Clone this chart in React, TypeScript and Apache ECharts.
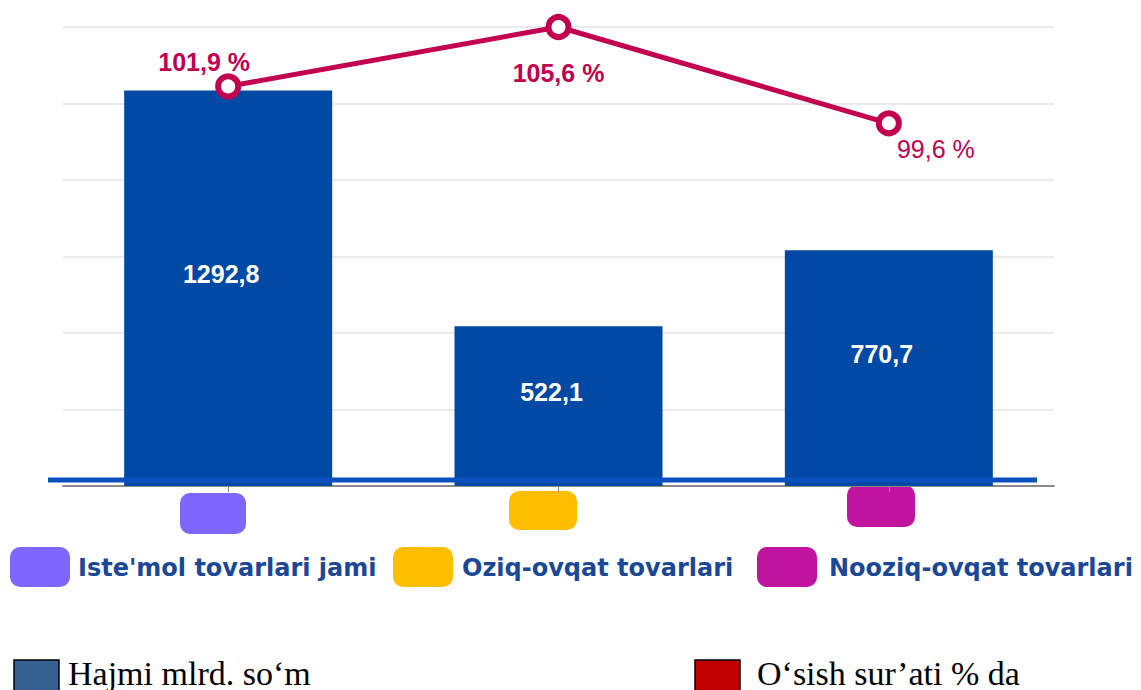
import React, { useEffect, useRef } from "react";
import * as echarts from "echarts";

const CATEGORIES = ["Iste'mol tovarlari jami", "Oziq-ovqat tovarlari", "Nooziq-ovqat tovarlari"];
const VOLUME = [1292.8, 522.1, 770.7];
const GROWTH = [101.9, 105.6, 99.6];
const CAT_COLORS = ["#7F66FF", "#FFBF00", "#C0149F"];
const SERIES_NAMES = ["Hajmi mlrd. so‘m", "O‘sish sur’ati % da"];
const SERIES_COLORS = ["#355E91", "#C00000"];
const VOLUME_TICKS = { min: 0, max: 1500, interval: 250 };
const GROWTH_RANGE = { min: 77, max: 105.6 };

const BAR_COLOR = "#004AA6";
const LINE_COLOR = "#C2004F";
const LEGEND_TEXT = "#1A4896";

const fmt = (v: number) => v.toFixed(1).replace(".", ",");

const LINE_LABEL_OFFSETS: [number, number][] = [
  [-24, -24],
  [0, 46],
  [47, 26],
];
const LINE_LABEL_WEIGHTS = ["bold", "bold", "normal"];

export default function App() {
  const ref = useRef<HTMLDivElement>(null);
  useEffect(() => {
    if (!ref.current) return;
    const chart = echarts.init(ref.current, undefined, { renderer: "svg" });

    const catBoxes = [
      { x: 180, y: 493, w: 66, h: 41 },
      { x: 509, y: 491, w: 68, h: 39 },
      { x: 847, y: 485, w: 68, h: 42 },
    ];
    const legendItems = [
      { sx: 10, tx: 78 },
      { sx: 393, tx: 462 },
      { sx: 757, tx: 829 },
    ];

    const graphic: any[] = [
      {
        type: "line",
        z: 50,
        shape: { x1: 48, y1: 480, x2: 1037, y2: 480 },
        style: { stroke: "#0A50BE", lineWidth: 5 },
      },
    ];
    catBoxes.forEach((b, i) => {
      graphic.push({
        type: "rect",
        shape: { x: b.x, y: b.y, width: b.w, height: b.h, r: 10 },
        style: { fill: CAT_COLORS[i] },
      });
    });
    legendItems.forEach((l, i) => {
      graphic.push({
        type: "rect",
        shape: { x: l.sx, y: 547, width: 60, height: 40, r: 10 },
        style: { fill: CAT_COLORS[i] },
      });
      graphic.push({
        type: "text",
        x: l.tx,
        y: 568,
        style: {
          text: CATEGORIES[i],
          fill: LEGEND_TEXT,
          font: "bold 24px 'DejaVu Sans'",
          verticalAlign: "middle",
          align: "left",
        },
      });
    });
    const bottom = [
      { sx: 14, tx: 68 },
      { sx: 695, tx: 757 },
    ];
    bottom.forEach((b, i) => {
      graphic.push({
        type: "rect",
        shape: { x: b.sx, y: 660, width: 45, height: 40 },
        style: { fill: SERIES_COLORS[i], stroke: "#000", lineWidth: 1.5 },
      });
      graphic.push({
        type: "text",
        x: b.tx,
        y: 673,
        style: {
          text: SERIES_NAMES[i],
          fill: "#000",
          font: "34px 'Liberation Serif'",
          verticalAlign: "middle",
          align: "left",
        },
      });
    });

    chart.setOption({
      animation: false,
      grid: { left: 63, right: 87, top: 27, bottom: 204, containLabel: false },
      xAxis: {
        type: "category",
        data: CATEGORIES,
        axisLabel: { show: false },
        axisTick: { show: true, alignWithLabel: true, length: 6, lineStyle: { color: "#888" } },
        axisLine: { lineStyle: { color: "#8a8a8a", width: 2 } },
      },
      yAxis: [
        {
          type: "value",
          min: VOLUME_TICKS.min,
          max: VOLUME_TICKS.max,
          interval: VOLUME_TICKS.interval,
          axisLabel: { show: false },
          axisLine: { show: false },
          axisTick: { show: false },
          splitLine: { lineStyle: { color: "#ebebeb", width: 2 } },
        },
        {
          type: "value",
          min: GROWTH_RANGE.min,
          max: GROWTH_RANGE.max,
          show: false,
          splitLine: { show: false },
        },
      ],
      series: [
        {
          name: SERIES_NAMES[0],
          type: "bar",
          data: VOLUME,
          barWidth: 208,
          itemStyle: { color: BAR_COLOR },
          label: {
            show: true,
            position: "inside",
            offset: [-7, -14],
            formatter: (p: any) => fmt(p.value),
            color: "#fff",
            fontWeight: "bold",
            fontSize: 25,
            fontFamily: "'Liberation Sans', Arial, sans-serif",
          },
        },
        {
          name: SERIES_NAMES[1],
          type: "line",
          yAxisIndex: 1,
          data: GROWTH.map((v, i) => ({
            value: v,
            label: {
              offset: LINE_LABEL_OFFSETS[i],
              fontWeight: LINE_LABEL_WEIGHTS[i],
            },
          })),
          z: 5,
          symbol: "circle",
          symbolSize: 20,
          lineStyle: { color: LINE_COLOR, width: 5 },
          itemStyle: { color: "#fff", borderColor: LINE_COLOR, borderWidth: 6 },
          label: {
            show: true,
            position: "inside",
            formatter: (p: any) => fmt(p.value) + " %",
            color: LINE_COLOR,
            fontSize: 25,
            fontFamily: "'Liberation Sans', Arial, sans-serif",
          },
        },
      ],
      graphic,
    });
    return () => chart.dispose();
  }, []);
  return (
    <div
      ref={ref}
      style={{ position: "fixed", left: 0, top: 0, width: 1141, height: 690, background: "#fff" }}
    />
  );
}
